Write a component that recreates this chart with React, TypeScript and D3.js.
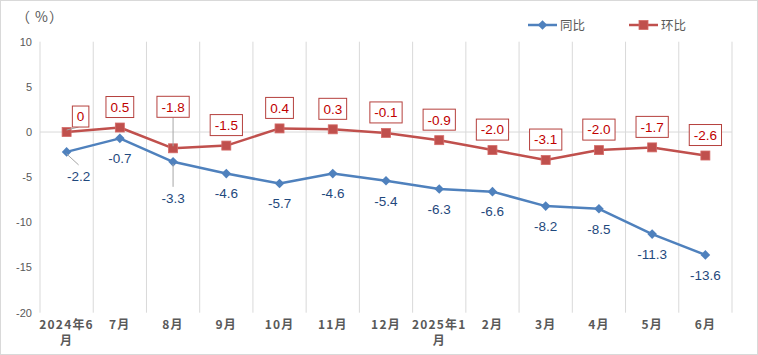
import React, { useEffect } from "react";
import * as d3 from "d3";

const categories = ["2024年6月", "7月", "8月", "9月", "10月", "11月", "12月", "2025年1月", "2月", "3月", "4月", "5月", "6月"];
const yoy = [-2.2, -0.7, -3.3, -4.6, -5.7, -4.6, -5.4, -6.3, -6.6, -8.2, -8.5, -11.3, -13.6];
const mom = [0, 0.5, -1.8, -1.5, 0.4, 0.3, -0.1, -0.9, -2.0, -3.1, -2.0, -1.7, -2.6];
const momLabels = ["0", "0.5", "-1.8", "-1.5", "0.4", "0.3", "-0.1", "-0.9", "-2.0", "-3.1", "-2.0", "-1.7", "-2.6"];
const yoyLabels = ["-2.2", "-0.7", "-3.3", "-4.6", "-5.7", "-4.6", "-5.4", "-6.3", "-6.6", "-8.2", "-8.5", "-11.3", "-13.6"];
const yTicks = [10, 5, 0, -5, -10, -15, -20];
const seriesNames = ["同比", "环比"];

// layout tweaks for labels moved away from their default spot (index -> offset)
const momLabelShift: Record<number, { dx: number; dy: number }> = { 0: { dx: 14, dy: 5 }, 2: { dx: 0, dy: -21 } };
const yoyLabelShift: Record<number, { dx: number; dy: number }> = { 0: { dx: 12, dy: 4 }, 2: { dx: 0, dy: 16 } };

const W = 758, H = 355;
const left = 40, right = 732, top = 41.7, bottom = 312.7;
const BLUE = "#4F81BD", RED = "#C0504D";
const NUM_FONT = "'Liberation Sans', Arial, sans-serif";
const CJK_FONT = "'Noto Sans CJK SC', 'Liberation Sans', sans-serif";

function textW(s: string, size: number) {
  let w = 0;
  for (const c of s) {
    if (c === ".") w += 0.278;
    else if (c === "-") w += 0.333;
    else w += 0.556;
  }
  return w * size;
}

export default function App() {
  useEffect(() => {
    document.body.style.margin = "0";
  }, []);
  const x = d3.scaleBand<string>().domain(categories).range([left, right]).padding(0);
  const y = d3.scaleLinear().domain([-20, 10]).range([bottom, top]);
  const cx = (i: number) => (x(categories[i]) as number) + x.bandwidth() / 2;
  const line = d3.line<number>().x((_, i) => cx(i)).y((v) => y(v));
  const diamond = "M0,-4.8L4.8,0L0,4.8L-4.8,0Z";

  const boundaries = d3.range(categories.length + 1).map((i) => left + i * x.bandwidth());

  return (
    <svg width={W} height={H} style={{ position: "absolute", left: 0, top: 0, background: "#fff" }}>
      <rect x={0.5} y={0.5} width={W - 1} height={H - 1} fill="#fff" stroke="#d9d9d9" />
      {boundaries.map((bx, i) => (
        <line key={i} x1={bx} x2={bx} y1={top} y2={bottom} stroke="#d9d9d9" strokeWidth={1} />
      ))}
      <line x1={left} x2={right} y1={y(0)} y2={y(0)} stroke="#d9d9d9" strokeWidth={1} />
      {yTicks.map((t) => (
        <text key={t} x={32} y={y(t)} dy="0.35em" textAnchor="end" fontSize={11} fill="#595959" fontFamily={NUM_FONT}>
          {t}
        </text>
      ))}
      <text y={22} fontSize={14} fill="#595959" fontFamily={CJK_FONT}>
        <tspan x={16}>（</tspan>
        <tspan x={35}>%</tspan>
        <tspan x={49}>）</tspan>
      </text>
      {categories.map((c, i) => {
        const lines = c.length > 4 ? [c.slice(0, -1), c.slice(-1)] : [c];
        return (
          <text key={c} x={cx(i)} y={329} textAnchor="middle" fontSize={12} fontWeight="bold" fill="#595959" fontFamily={CJK_FONT} letterSpacing={1.2}>
            {lines.map((l, k) => (
              <tspan key={k} x={cx(i)} dy={k === 0 ? 0 : 16}>{l}</tspan>
            ))}
          </text>
        );
      })}
      <path d={line(yoy) || ""} fill="none" stroke={BLUE} strokeWidth={2.5} strokeLinejoin="round" />
      <path d={line(mom) || ""} fill="none" stroke={RED} strokeWidth={2.5} strokeLinejoin="round" />
      {yoy.map((v, i) => (
        <path key={i} d={diamond} transform={`translate(${cx(i)},${y(v)})`} fill={BLUE} />
      ))}
      {mom.map((v, i) => (
        <rect key={i} x={cx(i) - 4.5} y={y(v) - 4.5} width={9} height={9} fill={RED} stroke="#D46A67" strokeWidth={0.8} />
      ))}
      {yoy.map((v, i) => {
        const sh = yoyLabelShift[i] || { dx: 0, dy: 0 };
        const px = cx(i), py = y(v);
        const lx = px + sh.dx, ly = py + 20 + sh.dy;
        return (
          <g key={i}>
            {(sh.dx !== 0 || sh.dy !== 0) && (
              <line x1={px} y1={py + 2} x2={lx} y2={ly - 11} stroke="#a6a6a6" strokeWidth={1} />
            )}
            <text x={lx} y={ly} dy="0.35em" textAnchor="middle" fontSize={13.5} fill="#1F497D" fontFamily={NUM_FONT}>
              {yoyLabels[i]}
            </text>
          </g>
        );
      })}
      {mom.map((v, i) => {
        const sh = momLabelShift[i] || { dx: 0, dy: 0 };
        const px = cx(i), py = y(v);
        const lx = px + sh.dx, ly = py - 20.5 + sh.dy;
        const bw = textW(momLabels[i], 13.5) + 9;
        const bh = 21;
        return (
          <g key={i}>
            {(sh.dx !== 0 || sh.dy !== 0) && (
              <line x1={px} y1={py - 2} x2={sh.dx !== 0 ? lx - 2 : lx} y2={ly + bh / 2} stroke="#a6a6a6" strokeWidth={1} />
            )}
            <rect x={lx - bw / 2} y={ly - bh / 2} width={bw} height={bh} fill="#fff" stroke="#B5403D" strokeWidth={1} />
            <text x={lx} y={ly} dy="0.36em" textAnchor="middle" fontSize={13.5} fill="#C00000" fontFamily={NUM_FONT}>
              {momLabels[i]}
            </text>
          </g>
        );
      })}
      <g>
        <line x1={528} x2={557} y1={25} y2={25} stroke={BLUE} strokeWidth={2.5} />
        <path d={diamond} transform="translate(542.5,25)" fill={BLUE} />
        <text x={560} y={25} dy="0.36em" fontSize={12.5} fill="#595959" fontFamily={CJK_FONT}>{seriesNames[0]}</text>
        <line x1={629} x2={658} y1={25} y2={25} stroke={RED} strokeWidth={2.5} />
        <rect x={639} y={20.5} width={9} height={9} fill={RED} stroke="#D46A67" strokeWidth={0.8} />
        <text x={661} y={25} dy="0.36em" fontSize={12.5} fill="#595959" fontFamily={CJK_FONT}>{seriesNames[1]}</text>
      </g>
    </svg>
  );
}
